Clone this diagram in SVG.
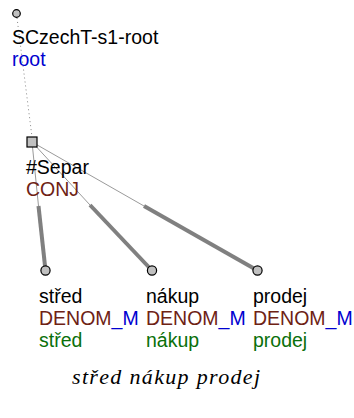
<svg xmlns="http://www.w3.org/2000/svg" width="354" height="418" viewBox="0 0 354 418">
  <style>
    text { font-family: "Liberation Sans", Arial, sans-serif; font-size: 19.5px; }
    .blk { fill: #000000; }
    .blu { fill: #0000d0; }
    .brn { fill: #6e2214; }
    .grn { fill: #0a700a; }
    .thin { stroke: #9a9a9a; stroke-width: 1; fill: none; }
    .thick { stroke: #808080; stroke-width: 4; fill: none; stroke-linecap: butt; }
    .dot { stroke: #888888; stroke-width: 1; stroke-dasharray: 1 3; fill: none; }
    .node { fill: #c0c0c0; stroke: #000000; stroke-width: 1.2; }
    .cap { font-family: "Liberation Serif", "Times New Roman", serif; font-style: italic; font-size: 22px; }
  </style>

  <!-- edges -->
  <g id="connectors">
    <line class="dot" x1="17" y1="18" x2="32" y2="137"/>
    <line class="thin" x1="32" y1="142" x2="38.5" y2="206"/>
    <line class="thick" x1="38.5" y1="206" x2="45.5" y2="270.5"/>
    <line class="thin" x1="32" y1="142" x2="90" y2="205"/>
    <line class="thick" x1="90" y1="205" x2="152" y2="270.5"/>
    <line class="thin" x1="32" y1="142" x2="144" y2="206"/>
    <line class="thick" x1="144" y1="206" x2="257.5" y2="270.5"/>
  </g>

  <g id="root">
    <circle class="node" cx="16.5" cy="13.5" r="3.8"/>
    <text class="blk" x="12" y="44">SCzechT-s1-root</text>
    <text class="blu" x="12" y="66">root</text>
  </g>

  <g id="separ">
    <rect class="node" x="27" y="137" width="10" height="10"/>
    <text class="blk" x="26" y="174">#Separ</text>
    <text class="brn" x="26" y="196">CONJ</text>
  </g>

  <g id="stred">
    <circle class="node" cx="45.5" cy="270.5" r="4.6"/>
    <text class="blk" x="39" y="303">střed</text>
    <text x="39" y="325"><tspan class="brn">DENOM</tspan><tspan class="blu">_M</tspan></text>
    <text class="grn" x="39" y="347">střed</text>
  </g>

  <g id="nakup">
    <circle class="node" cx="152" cy="270.5" r="4.6"/>
    <text class="blk" x="146" y="303">nákup</text>
    <text x="146" y="325"><tspan class="brn">DENOM</tspan><tspan class="blu">_M</tspan></text>
    <text class="grn" x="146" y="347">nákup</text>
  </g>

  <g id="prodej">
    <circle class="node" cx="257.5" cy="270.5" r="4.6"/>
    <text class="blk" x="253" y="303">prodej</text>
    <text x="253" y="325"><tspan class="brn">DENOM</tspan><tspan class="blu">_M</tspan></text>
    <text class="grn" x="253" y="347">prodej</text>
  </g>

  <text class="cap blk" x="72" y="384" textLength="188" lengthAdjust="spacing">střed nákup prodej</text>
</svg>
